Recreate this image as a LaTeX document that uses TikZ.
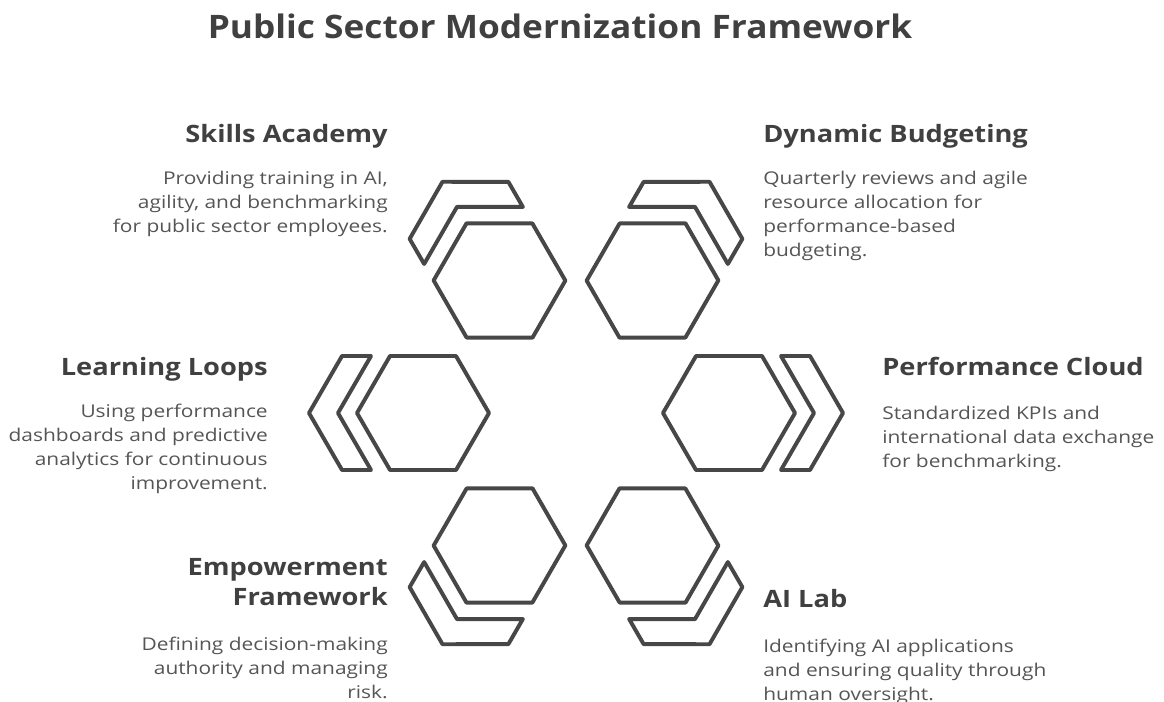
\documentclass[tikz,border=0pt]{standalone}
\usepackage{fontspec}
\setmainfont{Open Sans}
\newfontfamily\titlefont{Open Sans}[FakeStretch=1.09]
\newfontfamily\headfont{Open Sans}[FakeStretch=1.14]
\newfontfamily\blurbfont{Open Sans}[FakeStretch=1.19]
\definecolor{ink}{HTML}{474747}
\definecolor{headcol}{HTML}{404040}
\definecolor{bodycol}{HTML}{555555}

\begin{document}
\begin{tikzpicture}[x=0.025cm,y=-0.025cm,
  cell/.style={draw=ink,line width=2.8pt,line join=round},
  title/.style={font=\titlefont\fontsize{23}{28}\selectfont\bfseries,text=headcol,inner sep=0pt},
  heading/.style={font=\headfont\fontsize{17}{21.5}\selectfont\bfseries,text=headcol,inner sep=0pt},
  blurb/.style={font=\blurbfont\fontsize{12.5}{17}\selectfont,text=bodycol,inner sep=0pt}]
  \useasboundingbox (0,0) rectangle (1164,702);
  \coordinate (hub) at (576,413);

  % ring of hexagons, chevron on the outer side of each
  \foreach \ang in {0,60,...,300}{
    \begin{scope}[shift={(hub)},rotate=-\ang]
      \draw[cell] (219,0) -- (186,57) -- (120,57) -- (87,0) -- (120,-57) -- (186,-57) -- cycle;
      \draw[cell] (205,-57) -- (238,0) -- (205,57) -- (234,57) -- (267,0) -- (234,-57) -- cycle;
    \end{scope}
  }

  \node[title,anchor=north] (head) at (560,14) {Public Sector Modernization Framework};

  % left column
  \node[heading,anchor=north east] (skills) at (388,124) {Skills Academy};
  \node[blurb,anchor=north east,align=right] (skillsTxt) at (388,171)
    {Providing training in AI,\\agility, and benchmarking\\for public sector employees.};
  \node[heading,anchor=north east] (loops) at (268,357) {Learning Loops};
  \node[blurb,anchor=north east,align=right] (loopsTxt) at (268,404)
    {Using performance\\dashboards and predictive\\analytics for continuous\\improvement.};
  \node[heading,anchor=north east,align=right] (empower) at (388,558) {Empowerment\\Framework};
  \node[blurb,anchor=north east,align=right] (empowerTxt) at (388,637)
    {Defining decision-making\\authority and managing\\risk.};

  % right column
  \node[heading,anchor=north west] (budget) at (763,124) {Dynamic Budgeting};
  \node[blurb,anchor=north west,align=left] (budgetTxt) at (763,171)
    {Quarterly reviews and agile\\resource allocation for\\performance-based\\budgeting.};
  \node[heading,anchor=north west] (cloud) at (882,357) {Performance Cloud};
  \node[blurb,anchor=north west,align=left] (cloudTxt) at (882,406)
    {Standardized KPIs and\\international data exchange\\for benchmarking.};
  \node[heading,anchor=north west] (lab) at (763,589) {AI Lab};
  \node[blurb,anchor=north west,align=left] (labTxt) at (763,639)
    {Identifying AI applications\\and ensuring quality through\\human oversight.};
\end{tikzpicture}
\end{document}
